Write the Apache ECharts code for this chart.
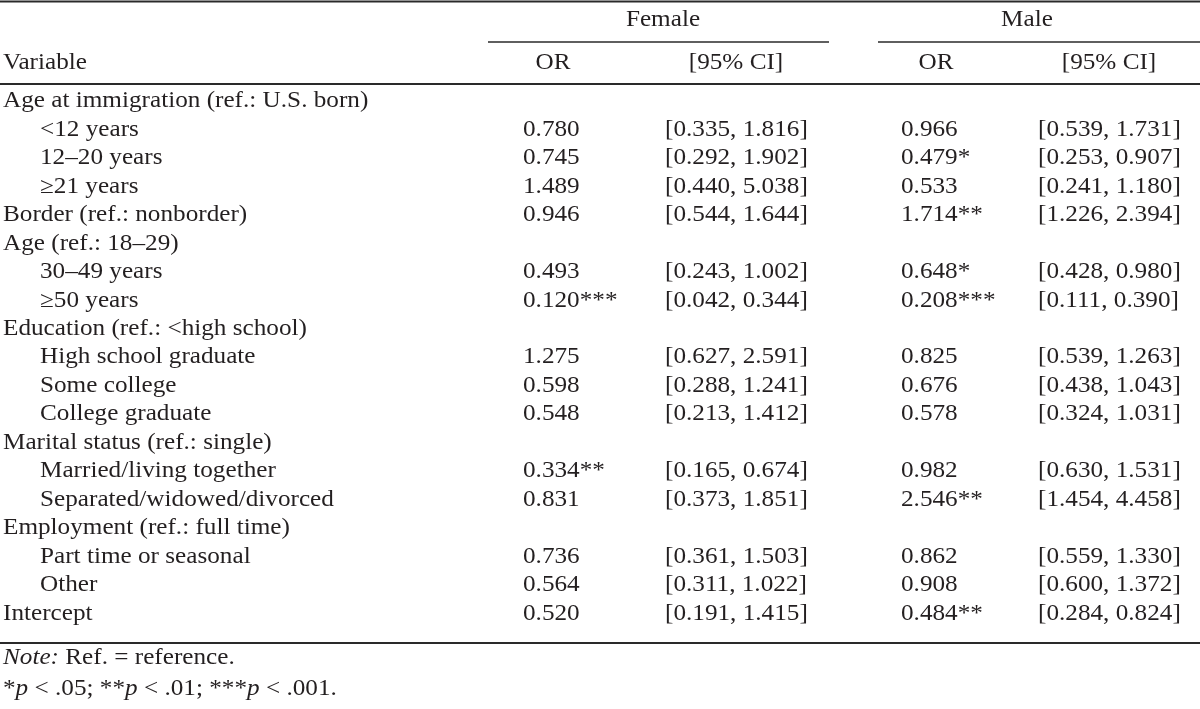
<!DOCTYPE html>
<html>
<head>
<meta charset="utf-8">
<script src="https://cdn.jsdelivr.net/npm/echarts@6/dist/echarts.min.js"></script>
<style>
html,body{margin:0;padding:0;background:#fff;}
#chart{width:1200px;height:709px;}
</style>
</head>
<body>
<div id="chart"></div>
<script>
// ---------- data ----------
const groupHeaders = ['Female', 'Male'];
const columnHeaders = ['Variable', 'OR', '[95% CI]', 'OR', '[95% CI]'];
const rowLabels = [
  'Age at immigration (ref.: U.S. born)', '<12 years', '12–20 years', '≥21 years',
  'Border (ref.: nonborder)', 'Age (ref.: 18–29)', '30–49 years', '≥50 years',
  'Education (ref.: <high school)', 'High school graduate', 'Some college', 'College graduate',
  'Marital status (ref.: single)', 'Married/living together', 'Separated/widowed/divorced',
  'Employment (ref.: full time)', 'Part time or seasonal', 'Other', 'Intercept'
];
const rowIndent = [0,1,1,1,0,0,1,1,0,1,1,1,0,1,1,0,1,1,0];
const femaleOR  = [null,0.780,0.745,1.489,0.946,null,0.493,0.120,null,1.275,0.598,0.548,null,0.334,0.831,null,0.736,0.564,0.520];
const femaleSig = ['','','','','','','','***','','','','','','**','','','','',''];
const femaleLo  = [null,0.335,0.292,0.440,0.544,null,0.243,0.042,null,0.627,0.288,0.213,null,0.165,0.373,null,0.361,0.311,0.191];
const femaleHi  = [null,1.816,1.902,5.038,1.644,null,1.002,0.344,null,2.591,1.241,1.412,null,0.674,1.851,null,1.503,1.022,1.415];
const maleOR    = [null,0.966,0.479,0.533,1.714,null,0.648,0.208,null,0.825,0.676,0.578,null,0.982,2.546,null,0.862,0.908,0.484];
const maleSig   = ['','','*','','**','','*','***','','','','','','','**','','','','**'];
const maleLo    = [null,0.539,0.253,0.241,1.226,null,0.428,0.111,null,0.539,0.438,0.324,null,0.630,1.454,null,0.559,0.600,0.284];
const maleHi    = [null,1.731,0.907,1.180,2.394,null,0.980,0.390,null,1.263,1.043,1.031,null,1.531,4.458,null,1.330,1.372,0.824];
const noteLines = ['{i|Note:} Ref. = reference.', '*{i|p} < .05; **{i|p} < .01; ***{i|p} < .001.'];

// ---------- layout ----------
const ROW0 = 101.5, ROWSTEP = 28.45, H = 709;
const yMin = -ROW0 / ROWSTEP, yMax = (H - ROW0) / ROWSTEP;
const rowOf = px => (px - ROW0) / ROWSTEP;
const colX = { label: 3, indent: 40, fOR: 523, fCI: 665, mOR: 901, mCI: 1038 };
const headX = { Female: 663, Male: 1027, fOR: 553, fCI: 736, mOR: 936, mCI: 1109 };
const R = { group: rowOf(20), col: rowOf(63), top: rowOf(1.5), sub: rowOf(42), head: rowOf(84), bottom: rowOf(643), note1: rowOf(658), note2: rowOf(689) };
const FAMILY = "'Liberation Serif', 'Times New Roman', serif";
const FSIZE = 22.5;
const SX = 1.12;
const INK = '#231f20';

const fmt = v => v.toFixed(3);
const cells = []; // [x, row, text, align]
cells.push([headX.Female, R.group, groupHeaders[0], 'center']);
cells.push([headX.Male, R.group, groupHeaders[1], 'center']);
cells.push([colX.label, R.col, columnHeaders[0], 'left']);
cells.push([headX.fOR, R.col, columnHeaders[1], 'center']);
cells.push([headX.fCI, R.col, columnHeaders[2], 'center']);
cells.push([headX.mOR, R.col, columnHeaders[3], 'center']);
cells.push([headX.mCI, R.col, columnHeaders[4], 'center']);
rowLabels.forEach((lab, i) => {
  cells.push([rowIndent[i] ? colX.indent : colX.label, i, lab, 'left']);
  if (femaleOR[i] != null) {
    cells.push([colX.fOR, i, fmt(femaleOR[i]) + femaleSig[i], 'left']);
    cells.push([colX.fCI, i, '[' + fmt(femaleLo[i]) + ', ' + fmt(femaleHi[i]) + ']', 'left']);
  }
  if (maleOR[i] != null) {
    cells.push([colX.mOR, i, fmt(maleOR[i]) + maleSig[i], 'left']);
    cells.push([colX.mCI, i, '[' + fmt(maleLo[i]) + ', ' + fmt(maleHi[i]) + ']', 'left']);
  }
});
cells.push([colX.label, R.note1, noteLines[0], 'left']);
cells.push([colX.label, R.note2, noteLines[1], 'left']);

const rules = [ // [x1, x2, row, width]
  [0, 1200, R.top, 2],
  [488, 829, R.sub, 1.6],
  [878, 1200, R.sub, 1.6],
  [0, 1200, R.head, 2],
  [0, 1200, R.bottom, 2]
];

const chart = echarts.init(document.getElementById('chart'), null, { renderer: 'canvas' });
chart.setOption({
  animation: false,
  backgroundColor: '#fff',
  grid: { left: 0, right: 0, top: 0, bottom: 0 },
  xAxis: { type: 'value', min: 0, max: 1200, show: false },
  yAxis: { type: 'value', min: yMin, max: yMax, inverse: true, show: false },
  series: [
    {
      type: 'custom',
      data: rules,
      renderItem: (params, api) => {
        const a = api.coord([api.value(0), api.value(2)]);
        const b = api.coord([api.value(1), api.value(2)]);
        return { type: 'line', shape: { x1: a[0], y1: a[1], x2: b[0], y2: b[1] },
                 style: { stroke: '#2a2a2a', lineWidth: api.value(3) } };
      }
    },
    {
      type: 'custom',
      data: cells.map(c => [c[0], c[1]]),
      renderItem: (params, api) => {
        const c = cells[params.dataIndex];
        const p = api.coord([api.value(0), api.value(1)]);
        return {
          type: 'text', x: p[0], y: p[1], scaleX: SX,
          style: {
            text: c[2], fontFamily: FAMILY, fontSize: FSIZE, fill: INK,
            align: c[3], verticalAlign: 'middle',
            rich: { i: { fontStyle: 'italic', fontFamily: FAMILY, fontSize: FSIZE, fill: INK } }
          }
        };
      }
    }
  ]
});
</script>
</body>
</html>
